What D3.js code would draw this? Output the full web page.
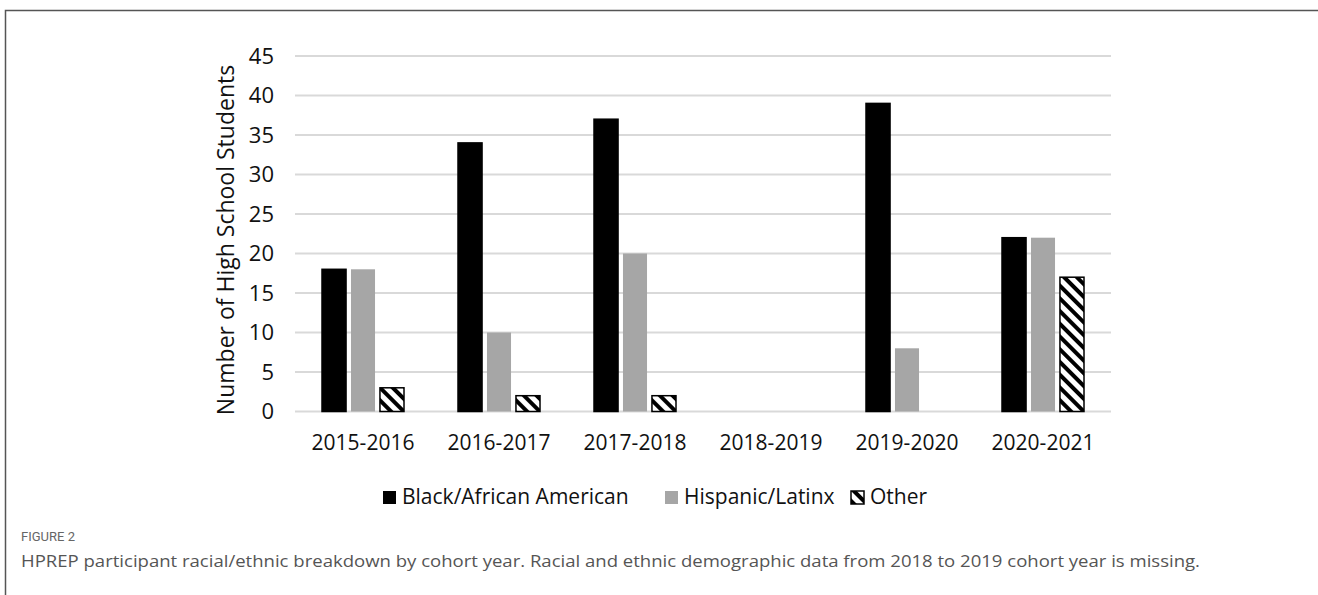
<!DOCTYPE html>
<html>
<head>
<meta charset="utf-8">
<script src="https://cdn.jsdelivr.net/npm/d3@7"></script>
<style>
  html, body { margin: 0; padding: 0; background: #fff; }
  svg { display: block; }
</style>
</head>
<body>
<div id="canvas"></div>
<script>
/* DATA */
const cohorts = ["2015-2016", "2016-2017", "2017-2018", "2018-2019", "2019-2020", "2020-2021"];
const seriesNames = ["Black/African American", "Hispanic/Latinx", "Other"];
const blackValues = [18, 34, 37, 0, 39, 22];
const hispanicValues = [18, 10, 20, 0, 8, 22];
const otherValues = [3, 2, 2, 0, 0, 17];
const yTicks = [0, 5, 10, 15, 20, 25, 30, 35, 40, 45];

/* CANVAS */
const width = 1318;
const height = 595;
const font = "Open Sans, sans-serif";

const svg = d3.select("#canvas")
    .append("svg")
    .attr("width", width)
    .attr("height", height);

const defs = svg.append("defs");
defs.append("pattern")
    .attr("id", "stripes")
    .attr("patternUnits", "userSpaceOnUse")
    .attr("width", 9)
    .attr("height", 9)
    .attr("patternTransform", "rotate(-45)")
    .call(p => {
        p.append("rect").attr("width", 9).attr("height", 9).attr("fill", "#fff");
        p.append("rect").attr("width", 4).attr("height", 9).attr("fill", "#000");
    });

const fills = ["#000000", "#a6a6a6", "url(#stripes)"];

/* FRAME */
svg.append("path")
    .attr("d", `M5.5,${height} V10.5 H${width}`)
    .attr("fill", "none")
    .attr("stroke", "#555")
    .attr("stroke-width", 1.5);

/* SCALES */
const x0 = d3.scaleBand()
    .domain(cohorts)
    .range([295, 1111]);

const x1 = d3.scaleBand()
    .domain(seriesNames)
    .range([27, x0.bandwidth() - 27])
    .paddingInner(0.17);

const y = d3.scaleLinear()
    .domain([0, 45])
    .range([411.5, 56]);

/* GRIDLINES */
svg.append("g")
    .selectAll("line")
    .data(yTicks)
    .join("line")
    .attr("x1", 295)
    .attr("x2", 1111)
    .attr("y1", d => y(d))
    .attr("y2", d => y(d))
    .attr("stroke", "#d9d9d9")
    .attr("stroke-width", 2);

/* Y AXIS LABELS */
const yAxis = svg.append("g")
    .attr("transform", "translate(274,0)")
    .call(d3.axisLeft(y).tickValues(yTicks).tickSize(0).tickPadding(0));
yAxis.select(".domain").remove();
yAxis.selectAll("text")
    .attr("font-family", font)
    .attr("font-size", 22)
    .attr("fill", "#111");

/* X AXIS LABELS */
const xAxis = svg.append("g")
    .attr("transform", "translate(0,435)")
    .call(d3.axisBottom(x0).tickSize(0).tickPadding(0));
xAxis.select(".domain").remove();
xAxis.selectAll("text")
    .attr("font-family", font)
    .attr("font-size", 21)
    .attr("fill", "#111");

/* Y TITLE */
svg.append("text")
    .attr("transform", "translate(234,240) rotate(-90)")
    .attr("text-anchor", "middle")
    .attr("font-family", font)
    .attr("font-size", 23)
    .attr("fill", "#111")
    .text("Number of High School Students");

/* BARS */
const rows = cohorts.map((c, i) => ({
    cohort: c,
    values: [blackValues[i], hispanicValues[i], otherValues[i]]
}));

const groups = svg.append("g")
    .selectAll("g")
    .data(rows)
    .join("g")
    .attr("transform", d => `translate(${x0(d.cohort)},0)`);

groups.selectAll("rect")
    .data(d => d.values.map((v, j) => ({ name: seriesNames[j], value: v, j: j })).filter(e => e.value > 0))
    .join("rect")
    .attr("x", d => x1(d.name))
    .attr("y", d => y(d.value))
    .attr("width", x1.bandwidth())
    .attr("height", d => y(0) - y(d.value))
    .attr("fill", d => fills[d.j])
    .attr("stroke", d => d.j === 1 ? "none" : "#000")
    .attr("stroke-width", 1.5);

/* LEGEND */
const legendX = [383, 665, 851];
const legend = svg.append("g")
    .selectAll("g")
    .data(seriesNames)
    .join("g")
    .attr("transform", (d, i) => `translate(${legendX[i]},491)`);

legend.append("rect")
    .attr("width", 13)
    .attr("height", 13)
    .attr("fill", (d, i) => fills[i])
    .attr("stroke", (d, i) => i === 1 ? "none" : "#000")
    .attr("stroke-width", (d, i) => i === 2 ? 1.5 : 0);

legend.append("text")
    .attr("x", 19)
    .attr("y", 13)
    .attr("font-family", font)
    .attr("font-size", 21)
    .attr("fill", "#111")
    .text(d => d);

/* CAPTION */
svg.append("text")
    .attr("x", 21)
    .attr("y", 541)
    .attr("font-family", "Roboto, sans-serif")
    .attr("font-size", 13)
    .attr("fill", "#666")
    .text("FIGURE 2");

svg.append("text")
    .attr("x", 21)
    .attr("y", 567)
    .attr("font-family", font)
    .attr("font-size", 16)
    .attr("textLength", 1179)
    .attr("lengthAdjust", "spacingAndGlyphs")
    .attr("fill", "#555")
    .text("HPREP participant racial/ethnic breakdown by cohort year. Racial and ethnic demographic data from 2018 to 2019 cohort year is missing.");
</script>
</body>
</html>
